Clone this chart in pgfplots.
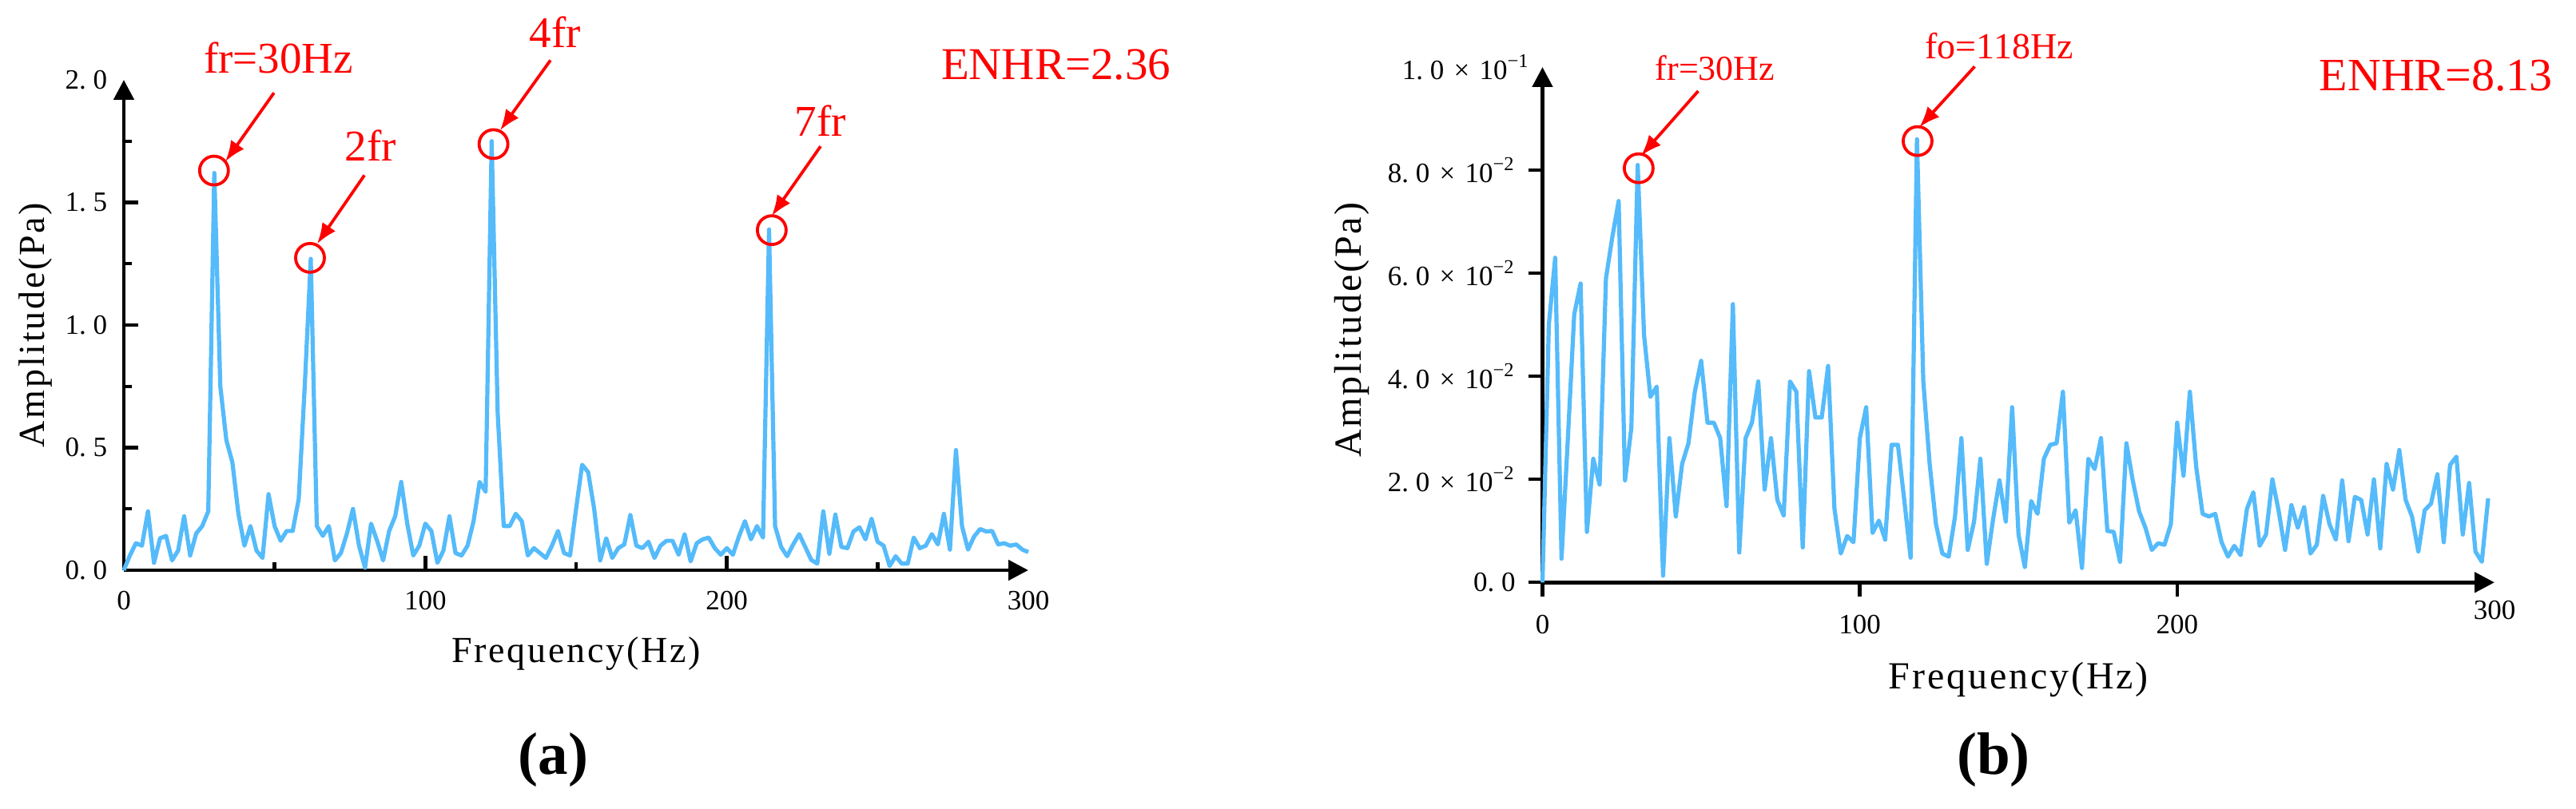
\documentclass[border=0pt]{standalone}
\usepackage{fontspec}
\setmainfont{Liberation Serif}
\newfontfamily\labfont[LetterSpace=6]{Liberation Serif}
\usepackage{pgfplots}
\pgfplotsset{compat=1.18}
\usetikzlibrary{arrows.meta}
\definecolor{specblue}{RGB}{85,187,250}
\definecolor{annred}{RGB}{255,0,0}
\newcommand{\dk}{\kern.25em}
\newcommand{\sci}[2]{#1\kern.35em\texttimes\kern.35em10\textsuperscript{\textminus#2}}
\pgfplotsset{
  myaxis/.style={
    scale only axis, clip=false,
    axis lines=left,
    x axis line style={line width=1.2pt, -{Triangle[length=6.25pt,width=6.25pt]}},
    y axis line style={line width=1.2pt, -{Triangle[length=6.25pt,width=6.25pt]}},
    every tick/.style={black, line width=1.1pt},
    major tick length=4.5pt, minor tick length=2.5pt,
    ticklabel style={font=\fontsize{8.75pt}{10pt}\selectfont, inner sep=0pt},
    label style={font=\labfont\fontsize{11.5pt}{13pt}\selectfont},
    scaled ticks=false,
    extra x tick style={major tick length=0pt},
    extra y tick style={major tick length=0pt},
  },
}
\tikzset{
  annlab/.style={annred, inner sep=0pt, anchor=base},
  annarrow/.style={annred, line width=0.95pt, -{Latex[length=6.5pt,width=5pt]}},
  anncirc/.style={annred, line width=0.95pt},
}
\begin{document}
\begin{tikzpicture}
\useasboundingbox (0,0) rectangle (806pt,253.25pt);
% ---------------- (a) ----------------
\begin{axis}[myaxis,
  at={(38.75pt,74.75pt)}, anchor=south west,
  width=283pt, height=153.5pt,
  xmin=0, xmax=300, ymin=0, ymax=2,
  tick align=inside,
  xtick={0,100,200}, xticklabels={0,100,200},
  extra x ticks={300}, extra x tick labels={300},
  minor xtick={50,150,250},
  ytick={0,0.5,1,1.5}, yticklabels={0.\dk0,0.\dk5,1.\dk0,1.\dk5},
  extra y ticks={2}, extra y tick labels={2.\dk0},
  minor ytick={0.25,0.75,1.25,1.75},
  xticklabel style={anchor=north, yshift=-6.25pt},
  yticklabel style={anchor=east, xshift=-5pt},
  xlabel={Frequency(Hz)}, ylabel={Amplitude(Pa)},
  xlabel style={at={([yshift=-29pt]rel axis cs:0.5,0)}, anchor=base},
  ylabel style={at={([xshift=-27.75pt]rel axis cs:0,0.5)}, anchor=center},
]
\addplot[specblue, line width=1.3pt, line join=round, mark=none] coordinates {
(0,0.00)(2,0.06)(4,0.11)(6,0.10)(8,0.24)(10,0.03)(12,0.13)(14,0.14)(16,0.04)(18,0.08)
(20,0.22)(22,0.06)(24,0.15)(26,0.18)(28,0.24)(30,1.62)(32,0.75)(34,0.53)(36,0.44)(38,0.23)
(40,0.10)(42,0.18)(44,0.08)(46,0.05)(48,0.31)(50,0.18)(52,0.12)(54,0.16)(56,0.16)(58,0.29)
(60,0.75)(62,1.27)(64,0.18)(66,0.14)(68,0.18)(70,0.04)(72,0.07)(74,0.15)(76,0.25)(78,0.10)
(80,0.01)(82,0.19)(84,0.12)(86,0.04)(88,0.16)(90,0.22)(92,0.36)(94,0.19)(96,0.06)(98,0.10)
(100,0.19)(102,0.16)(104,0.03)(106,0.08)(108,0.22)(110,0.07)(112,0.06)(114,0.10)(116,0.20)(118,0.36)
(120,0.32)(122,1.75)(124,0.64)(126,0.18)(128,0.18)(130,0.23)(132,0.20)(134,0.06)(136,0.09)(138,0.07)
(140,0.05)(142,0.10)(144,0.16)(146,0.07)(148,0.06)(150,0.25)(152,0.43)(154,0.40)(156,0.25)(158,0.04)
(160,0.13)(162,0.05)(164,0.09)(166,0.105)(168,0.225)(170,0.10)(172,0.09)(174,0.116)(176,0.05)(178,0.10)
(180,0.12)(182,0.12)(184,0.063)(186,0.147)(188,0.036)(190,0.11)(192,0.126)(194,0.133)(196,0.09)(198,0.063)
(200,0.09)(202,0.063)(204,0.137)(206,0.20)(208,0.126)(210,0.18)(212,0.133)(214,1.39)(216,0.18)(218,0.095)
(220,0.057)(222,0.105)(224,0.147)(226,0.095)(228,0.042)(230,0.027)(232,0.24)(234,0.067)(236,0.227)(238,0.095)
(240,0.09)(242,0.158)(244,0.175)(246,0.126)(248,0.21)(250,0.116)(252,0.10)(254,0.017)(256,0.057)(258,0.027)
(260,0.027)(262,0.133)(264,0.09)(266,0.10)(268,0.147)(270,0.105)(272,0.23)(274,0.084)(276,0.49)(278,0.18)
(280,0.084)(282,0.137)(284,0.168)(286,0.158)(288,0.16)(290,0.105)(292,0.11)(294,0.10)(296,0.105)(298,0.084)
(300,0.074)
};
\draw[anncirc] (axis cs:29.9,1.63) circle[radius=4.5pt];
\draw[annarrow] (axis cs:49.8,1.947) -- (axis cs:33.7,1.667);
\node[annlab, font=\fontsize{13.75pt}{16pt}\selectfont] at (axis cs:51.3,2.029) {fr=30Hz};
\draw[anncirc] (axis cs:61.75,1.274) circle[radius=4.5pt];
\draw[annarrow] (axis cs:79.8,1.611) -- (axis cs:64.1,1.331);
\node[annlab, font=\fontsize{13.75pt}{16pt}\selectfont] at (axis cs:81.8,1.668) {2fr};
\draw[anncirc] (axis cs:122.6,1.738) circle[radius=4.5pt];
\draw[annarrow] (axis cs:141.5,2.080) -- (axis cs:124.8,1.794);
\node[annlab, font=\fontsize{13.75pt}{16pt}\selectfont] at (axis cs:143.1,2.131) {4fr};
\draw[anncirc] (axis cs:214.9,1.387) circle[radius=4.5pt];
\draw[annarrow] (axis cs:231.1,1.729) -- (axis cs:214.9,1.445);
\node[annlab, font=\fontsize{13.75pt}{16pt}\selectfont] at (axis cs:231.1,1.771) {7fr};
\node[annlab, anchor=base west, font=\fontsize{14.25pt}{16pt}\selectfont] at (axis cs:270.9,2.002) {ENHR=2.36};
\node[font=\bfseries\fontsize{18.75pt}{20pt}\selectfont, inner sep=0pt] at (rel axis cs:0.475,-0.386) {(a)};
\end{axis}
% ---------------- (b) ----------------
\begin{axis}[myaxis,
  at={(482.625pt,70.925pt)}, anchor=south west,
  width=297.875pt, height=161.325pt,
  xmin=0, xmax=300, ymin=0, ymax=0.1,
  tick align=outside,
  xtick={0,100,200}, xticklabels={0,100,200},
  extra x ticks={300}, extra x tick labels={300},
  ytick={0,0.02,0.04,0.06,0.08},
  yticklabels={0.\dk0,\sci{2.\dk0}{2},\sci{4.\dk0}{2},\sci{6.\dk0}{2},\sci{8.\dk0}{2}},
  extra y ticks={0.1}, extra y tick labels={\sci{1.\dk0}{1}},
  xticklabel style={anchor=north, yshift=-5.5pt},
  yticklabel style={anchor=east, xshift=-3.75pt},
  xlabel={Frequency(Hz)}, ylabel={Amplitude(Pa)},
  label style={font=\labfont\fontsize{12pt}{14pt}\selectfont},
  xlabel style={at={([yshift=-33.2pt]rel axis cs:0.5,0)}, anchor=base},
  ylabel style={at={([xshift=-59.6pt,yshift=-1.6pt]rel axis cs:0,0.5)}, anchor=center},
]
\addplot[specblue, line width=1.3pt, line join=round, mark=none] coordinates {
(0,0.000)(2,0.050)(4,0.063)(6,0.0046)(8,0.028)(10,0.052)(12,0.058)(14,0.0098)(16,0.024)(18,0.019)
(20,0.059)(22,0.067)(24,0.074)(26,0.0198)(28,0.030)(30,0.081)(32,0.048)(34,0.036)(36,0.038)(38,0.0013)
(40,0.028)(42,0.0128)(44,0.023)(46,0.027)(48,0.037)(50,0.043)(52,0.031)(54,0.031)(56,0.028)(58,0.0148)
(60,0.054)(62,0.0058)(64,0.028)(66,0.031)(68,0.039)(70,0.018)(72,0.028)(74,0.016)(76,0.013)(78,0.039)
(80,0.037)(82,0.0068)(84,0.041)(86,0.032)(88,0.032)(90,0.042)(92,0.0143)(94,0.0056)(96,0.009)(98,0.0078)
(100,0.028)(102,0.034)(104,0.0096)(106,0.012)(108,0.0083)(110,0.0267)(112,0.0267)(114,0.016)(116,0.0048)(118,0.086)
(120,0.039)(122,0.023)(124,0.0113)(126,0.0056)(128,0.005)(130,0.0128)(132,0.028)(134,0.0063)(136,0.0118)(138,0.024)
(140,0.0036)(142,0.0123)(144,0.0198)(146,0.0118)(148,0.034)(150,0.0093)(152,0.003)(154,0.0158)(156,0.0133)(158,0.024)
(160,0.0267)(162,0.027)(164,0.037)(166,0.0116)(168,0.014)(170,0.0028)(172,0.024)(174,0.022)(176,0.028)(178,0.010)
(180,0.0098)(182,0.004)(184,0.027)(186,0.0198)(188,0.0138)(190,0.0106)(192,0.0063)(194,0.0076)(196,0.0073)(198,0.0113)
(200,0.031)(202,0.0207)(204,0.037)(206,0.0224)(208,0.0133)(210,0.0128)(212,0.0133)(214,0.0078)(216,0.005)(218,0.0071)
(220,0.0053)(222,0.0143)(224,0.0175)(226,0.0071)(228,0.0093)(230,0.020)(232,0.0138)(234,0.0063)(236,0.015)(238,0.0106)
(240,0.0146)(242,0.0056)(244,0.0073)(246,0.0168)(248,0.0113)(250,0.0083)(252,0.0198)(254,0.008)(256,0.0166)(258,0.016)
(260,0.0093)(262,0.020)(264,0.0066)(266,0.023)(268,0.018)(270,0.0257)(272,0.016)(274,0.0128)(276,0.006)(278,0.014)
(280,0.0153)(282,0.021)(284,0.0078)(286,0.0228)(288,0.0244)(290,0.0093)(292,0.0193)(294,0.006)(296,0.004)(298,0.0163)
};
\draw[anncirc] (axis cs:30.31,0.08037) circle[radius=4.5pt];
\draw[annarrow] (axis cs:49.07,0.09535) -- (axis cs:31.09,0.08280);
\node[annlab, font=\fontsize{11pt}{13pt}\selectfont] at (axis cs:54.4,0.09737) {fr=30Hz};
\draw[anncirc] (axis cs:118.2,0.08564) circle[radius=4.5pt];
\draw[annarrow] (axis cs:136.2,0.10011) -- (axis cs:118.77,0.08833);
\node[annlab, font=\fontsize{11.5pt}{13pt}\selectfont] at (axis cs:143.9,0.10155) {fo=118Hz};
\node[annlab, anchor=base west, font=\fontsize{14.5pt}{16pt}\selectfont] at (axis cs:244.6,0.09535) {ENHR=8.13};
\node[font=\bfseries\fontsize{18.75pt}{20pt}\selectfont, inner sep=0pt] at (rel axis cs:0.4738,-0.3436) {(b)};
\end{axis}
\end{tikzpicture}
\end{document}
